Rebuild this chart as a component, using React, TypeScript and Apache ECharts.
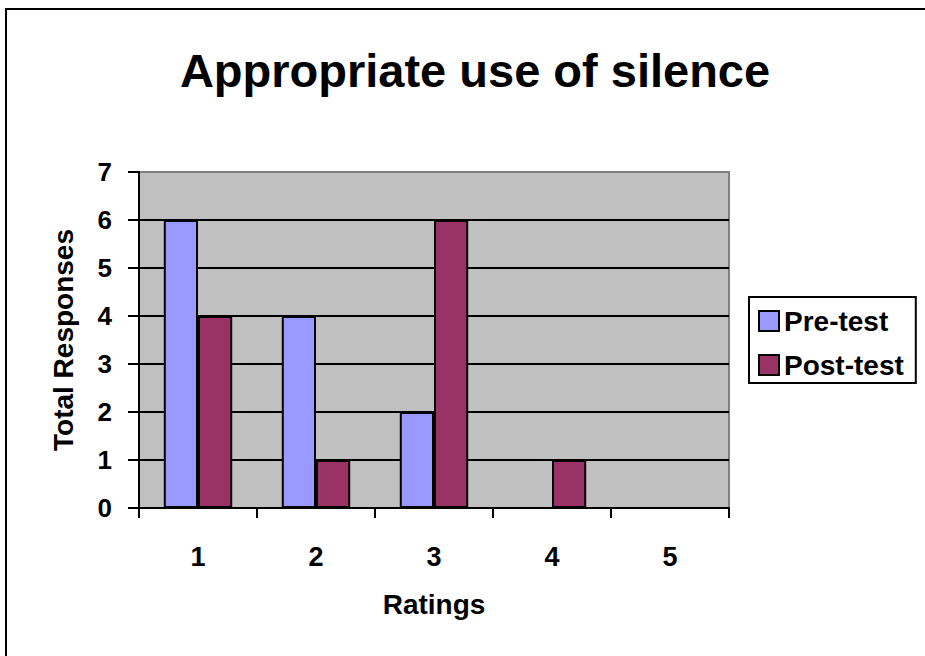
import React, { useEffect, useRef } from "react";
import * as echarts from "echarts";

const chartTitle = "Appropriate use of silence";
const ratings = ["1", "2", "3", "4", "5"];
const preTest = [6, 4, 2, 0, 0];
const postTest = [4, 1, 6, 1, 0];
const seriesNames = ["Pre-test", "Post-test"];
const yAxisName = "Total Responses";
const xAxisName = "Ratings";

const FONT = '"Liberation Sans", Arial, sans-serif';

export default function App() {
  const ref = useRef<HTMLDivElement>(null);
  useEffect(() => {
    if (!ref.current) return;
    const chart = echarts.init(ref.current, undefined, { renderer: "svg" });
    chart.setOption({
      animation: false,
      backgroundColor: "#ffffff",
      textStyle: { fontFamily: FONT },
      title: {
        text: chartTitle,
        left: 475,
        top: 47,
        padding: 0,
        textAlign: "center",
        textStyle: { fontFamily: FONT, fontSize: 47, fontWeight: "bold", color: "#000" },
      },
      graphic: [
        {
          type: "polyline",
          shape: { points: [[6, 3000], [6, 9], [3000, 9]] },
          style: { fill: "none", stroke: "#000", lineWidth: 2 },
          silent: true,
        },
      ],
      legend: {
        orient: "vertical",
        left: 749,
        top: 297,
        padding: [10, 12, 4, 9],
        itemWidth: 20,
        itemHeight: 20,
        itemGap: 16,
        borderColor: "#000",
        borderWidth: 2,
        borderRadius: 0,
        icon: "rect",
        textStyle: { fontFamily: FONT, fontSize: 28, fontWeight: "bold", color: "#000" },
        data: seriesNames,
      },
      grid: {
        left: 139,
        top: 172,
        width: 590,
        height: 336,
        show: true,
        backgroundColor: "#C0C0C0",
        borderColor: "#808080",
        borderWidth: 2,
      },
      xAxis: {
        type: "category",
        data: ratings,
        name: xAxisName,
        nameLocation: "middle",
        nameGap: 82,
        nameTextStyle: { fontFamily: FONT, fontSize: 28, fontWeight: "bold", color: "#000" },
        axisLine: { show: true, lineStyle: { color: "#000", width: 2 } },
        axisTick: { show: true, length: 10, lineStyle: { color: "#000", width: 2 } },
        axisLabel: { margin: 35, fontFamily: FONT, fontSize: 27, fontWeight: "bold", color: "#000" },
        splitLine: { show: false },
      },
      yAxis: {
        type: "value",
        min: 0,
        max: 7,
        interval: 1,
        name: yAxisName,
        nameLocation: "middle",
        nameGap: 62,
        nameRotate: 90,
        nameTextStyle: { fontFamily: FONT, fontSize: 28, fontWeight: "bold", color: "#000" },
        axisLine: { show: true, lineStyle: { color: "#000", width: 2 } },
        axisTick: { show: true, length: 11, lineStyle: { color: "#000", width: 2 } },
        axisLabel: { margin: 27, fontFamily: FONT, fontSize: 26, fontWeight: "bold", color: "#000" },
        splitLine: {
          show: true,
          lineStyle: {
            color: ["#000", "#000", "#000", "#000", "#000", "#000", "#000", "#808080"],
            width: 2,
          },
        },
      },
      series: [
        {
          name: seriesNames[0],
          type: "bar",
          data: preTest,
          barGap: "0%",
          barCategoryGap: "42%",
          itemStyle: { color: "#9999FF", borderColor: "#000", borderWidth: 2 },
        },
        {
          name: seriesNames[1],
          type: "bar",
          data: postTest,
          barGap: "0%",
          barCategoryGap: "42%",
          itemStyle: { color: "#993366", borderColor: "#000", borderWidth: 2 },
        },
      ],
    });
    return () => chart.dispose();
  }, []);
  return (
    <div
      ref={ref}
      style={{ position: "fixed", left: 0, top: 0, width: 925, height: 656, overflow: "hidden" }}
    />
  );
}
